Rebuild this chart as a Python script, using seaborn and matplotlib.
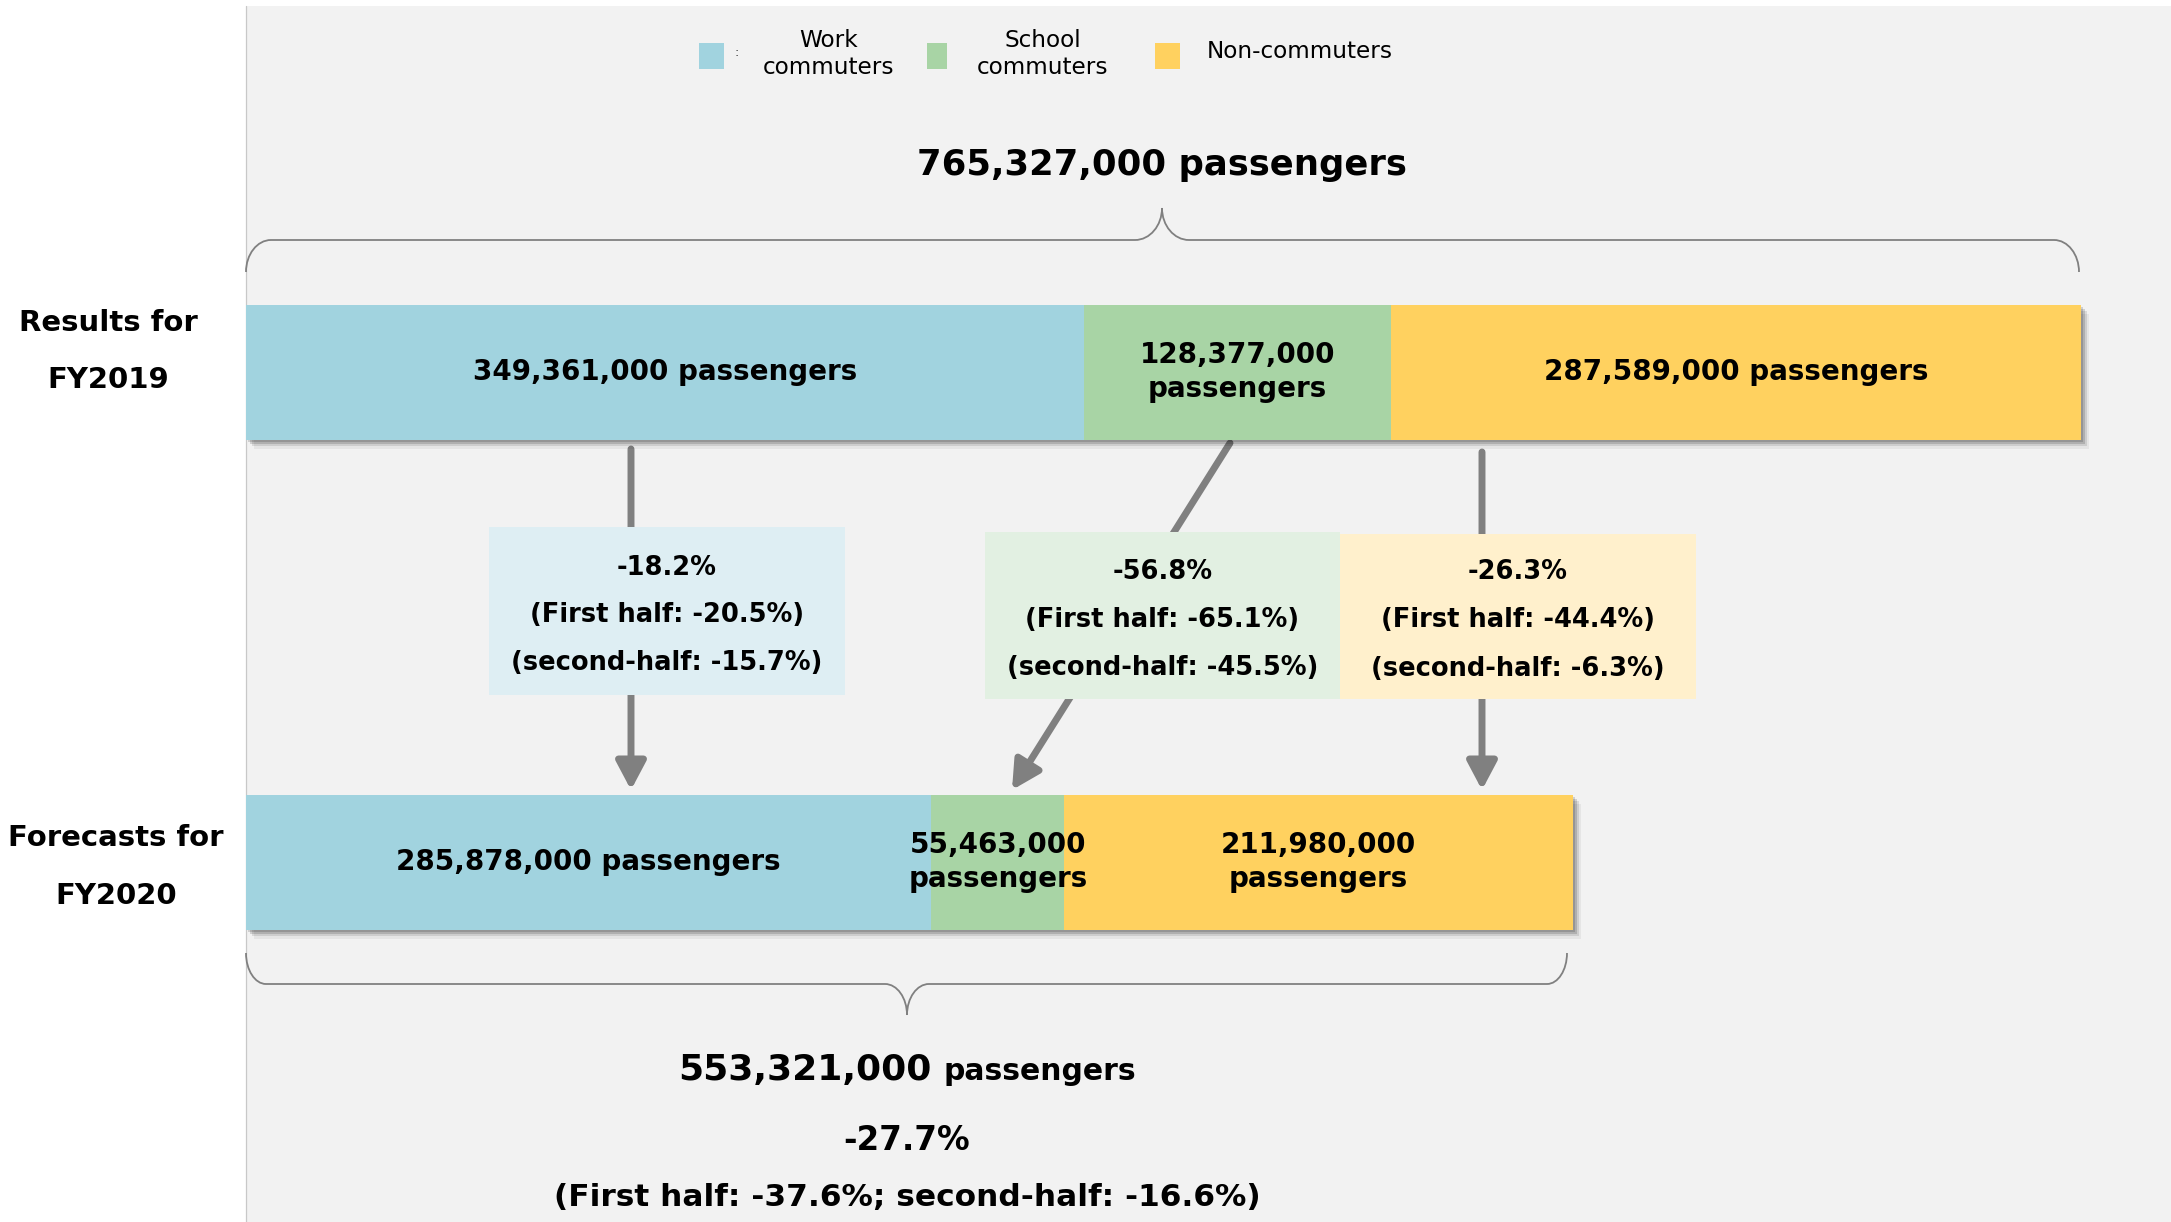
import numpy as np
import pandas as pd
import matplotlib
matplotlib.use("Agg")
import matplotlib.pyplot as plt
import matplotlib.patheffects as pe
from matplotlib.path import Path
from matplotlib.patches import PathPatch, Rectangle, FancyArrowPatch
import seaborn as sns

# ---- data (thousand passengers) ----
years = ["FY2019", "FY2020"]
row_titles = [("Results for", "FY2019"), ("Forecasts for", "FY2020")]
segments = ["Work\ncommuters", "School\ncommuters", "Non-commuters"]
work = [349361, 285878]
school = [128377, 55463]
non_commuters = [287589, 211980]
totals = [765327, 553321]
seg_change = ["-18.2%", "-56.8%", "-26.3%"]
seg_first_half = ["-20.5%", "-65.1%", "-44.4%"]
seg_second_half = ["-15.7%", "-45.5%", "-6.3%"]
total_change = "-27.7%"
total_first_half = "-37.6%"
total_second_half = "-16.6%"

colors = ["#A1D3DF", "#A8D4A5", "#FFD15F"]
box_colors = ["#DEEEF3", "#E2F0E2", "#FFF0CC"]
arrow_gray = "#808080"

sns.set_theme(style="white")
plt.rcParams["font.family"] = ["DejaVu Sans"]
plt.rcParams["text.color"] = "black"

W, H = 2171, 1222
fig = plt.figure(figsize=(W / 100, H / 100), dpi=100)
fig.patch.set_facecolor("white")

# ---- background / annotation layer in pixel units ----
ax_bg = fig.add_axes([0, 0, 1, 1], zorder=0)
ax_bg.set_xlim(0, W)
ax_bg.set_ylim(H, 0)
ax_bg.axis("off")
ax_bg.add_patch(Rectangle((246, 6), W - 246, H - 6, facecolor="#F2F2F2",
                          edgecolor="none", zorder=0))
ax_bg.plot([246, 246], [6, H], color="#C8C8C8", lw=0.9, zorder=1)

# ---- stacked bars ----
df = pd.DataFrame({"year": years, "work": work, "school": school,
                   "non": non_commuters})
cum = df[["work", "school", "non"]].cumsum(axis=1)
df["c1"], df["c2"], df["c3"] = cum["work"], cum["school"], cum["non"]

ax = fig.add_axes([0, 0, 1, 1], zorder=2)
ax.patch.set_alpha(0)

bar_left_px, bar_right_px = 246, 2081
px_per = (bar_right_px - bar_left_px) / totals[0]
row_px = [372, 862]
row_gap = row_px[1] - row_px[0]
bar_w = 135 / row_gap

shadow = [pe.SimplePatchShadow(offset=(1.5, -2), shadow_rgbFace="black", alpha=0.14),
          pe.SimplePatchShadow(offset=(3, -3.5), shadow_rgbFace="black", alpha=0.14),
          pe.SimplePatchShadow(offset=(4.5, -5), shadow_rgbFace="black", alpha=0.10),
          pe.SimplePatchShadow(offset=(6, -6.5), shadow_rgbFace="black", alpha=0.05),
          pe.Normal()]

for i, (col, colr) in enumerate(zip(["c3", "c2", "c1"], colors[::-1])):
    sns.barplot(data=df, x=col, y="year", orient="h", color=colr, width=bar_w,
                saturation=1, errorbar=None, edgecolor="none", linewidth=0, ax=ax)
    if i == 0:
        for p in ax.patches:
            p.set_path_effects(shadow)

ax.set_xlim(-bar_left_px / px_per, (W - bar_left_px) / px_per)
ax.set_ylim((H - row_px[0]) / row_gap, -row_px[0] / row_gap)
ax.axis("off")

# segment labels at segment centres
for r in range(len(years)):
    vals = [work[r], school[r], non_commuters[r]]
    left = 0
    for v in vals:
        num = f"{v * 1000:,}"
        txt = f"{num} passengers" if v * px_per > 600 else f"{num}\npassengers"
        ax.text(left + v / 2, r, txt, ha="center", va="center", fontsize=20,
                fontweight="bold", color="black", linespacing=1.25, zorder=5)
        left += v

# ---- legend ----
leg_boxes = [(699, 43, 25, 26), (927, 43, 20, 26), (1155, 43, 25, 26)]
for (x, y, w, h), c in zip(leg_boxes, colors):
    ax_bg.add_patch(Rectangle((x, y), w, h, facecolor=c, edgecolor="none", zorder=3))
ax_bg.text(737, 53, ":", fontsize=9, ha="center", va="center", color="#333333")
ax_bg.text(829, 54, segments[0], fontsize=16.7, ha="center", va="center")
ax_bg.text(1043, 54, segments[1], fontsize=16.7, ha="center", va="center")
ax_bg.text(1207, 51, segments[2], fontsize=16.7, ha="left", va="center")

# ---- totals ----
ax_bg.text(1162, 175, f"{totals[0] * 1000:,} passengers", fontsize=25.5,
           fontweight="bold", ha="center", va="baseline")


def brace(axis, x0, x1, y_end, y_line, x_tip, y_tip, rx, tx):
    k = 0.552

    def corner(a, kpt, b):
        c1 = (a[0] + k * (kpt[0] - a[0]), a[1] + k * (kpt[1] - a[1]))
        c2 = (b[0] + k * (kpt[0] - b[0]), b[1] + k * (kpt[1] - b[1]))
        return [c1, c2, b]

    verts = [(x0, y_end)]
    codes = [Path.MOVETO]
    verts += corner((x0, y_end), (x0, y_line), (x0 + rx, y_line))
    codes += [Path.CURVE4] * 3
    verts.append((x_tip - tx, y_line)); codes.append(Path.LINETO)
    verts += corner((x_tip - tx, y_line), (x_tip, y_line), (x_tip, y_tip))
    codes += [Path.CURVE4] * 3
    verts += corner((x_tip, y_tip), (x_tip, y_line), (x_tip + tx, y_line))
    codes += [Path.CURVE4] * 3
    verts.append((x1 - rx, y_line)); codes.append(Path.LINETO)
    verts += corner((x1 - rx, y_line), (x1, y_line), (x1, y_end))
    codes += [Path.CURVE4] * 3
    axis.add_patch(PathPatch(Path(verts, codes), facecolor="none",
                             edgecolor="#808080", lw=1.3, zorder=3))


brace(ax_bg, 246, 2079, 272, 240, 1162, 208, 25, 27)
brace(ax_bg, 246, 1567, 953, 984, 907, 1015, 20, 22)

# ---- row titles ----
ax_bg.text(108, 320, row_titles[0][0], fontsize=21, fontweight="bold",
           ha="center", va="center_baseline")
ax_bg.text(108, 377, row_titles[0][1], fontsize=21, fontweight="bold",
           ha="center", va="center_baseline")
ax_bg.text(116, 835, row_titles[1][0], fontsize=21, fontweight="bold",
           ha="center", va="center_baseline")
ax_bg.text(116, 893, row_titles[1][1], fontsize=21, fontweight="bold",
           ha="center", va="center_baseline")

# ---- change arrows ----
arrows = [((631, 449), (631, 790)), ((1230, 443), (1012, 790)), ((1482, 452), (1482, 790))]
for a, b in arrows:
    ax_bg.add_patch(FancyArrowPatch(a, b, arrowstyle="-|>,head_length=0.85,head_width=0.45",
                                    mutation_scale=20, lw=5, color=arrow_gray,
                                    shrinkA=0, shrinkB=0, zorder=4))

# ---- change boxes ----
boxes = [(489, 527, 356, 168), (985, 532, 355, 167), (1340, 534, 356, 165)]
line_ys = [(565, 612, 660), (569, 617, 665), (569, 617, 666)]
for j, ((x, y, w, h), c) in enumerate(zip(boxes, box_colors)):
    ax_bg.add_patch(Rectangle((x, y), w, h, facecolor=c, edgecolor="none", zorder=6))
    cx = x + w / 2
    lines = [seg_change[j], f"(First half: {seg_first_half[j]})",
             f"(second-half: {seg_second_half[j]})"]
    for ly, t in zip(line_ys[j], lines):
        ax_bg.text(cx, ly, t, fontsize=18.5, fontweight="bold", ha="center",
                   va="center_baseline", zorder=7)

# ---- FY2020 total ----
ax_bg.text(932, 1080, f"{totals[1] * 1000:,}", fontsize=26, fontweight="bold",
           ha="right", va="baseline")
ax_bg.text(943, 1080, "passengers", fontsize=21.5, fontweight="bold",
           ha="left", va="baseline")
ax_bg.text(907, 1137, total_change, fontsize=23.5, fontweight="bold",
           ha="center", va="center_baseline")
ax_bg.text(907, 1194, f"(First half: {total_first_half}; second-half: {total_second_half})",
           fontsize=22.5, fontweight="bold", ha="center", va="center_baseline")

fig.savefig("out.png", dpi=100, facecolor="white")
